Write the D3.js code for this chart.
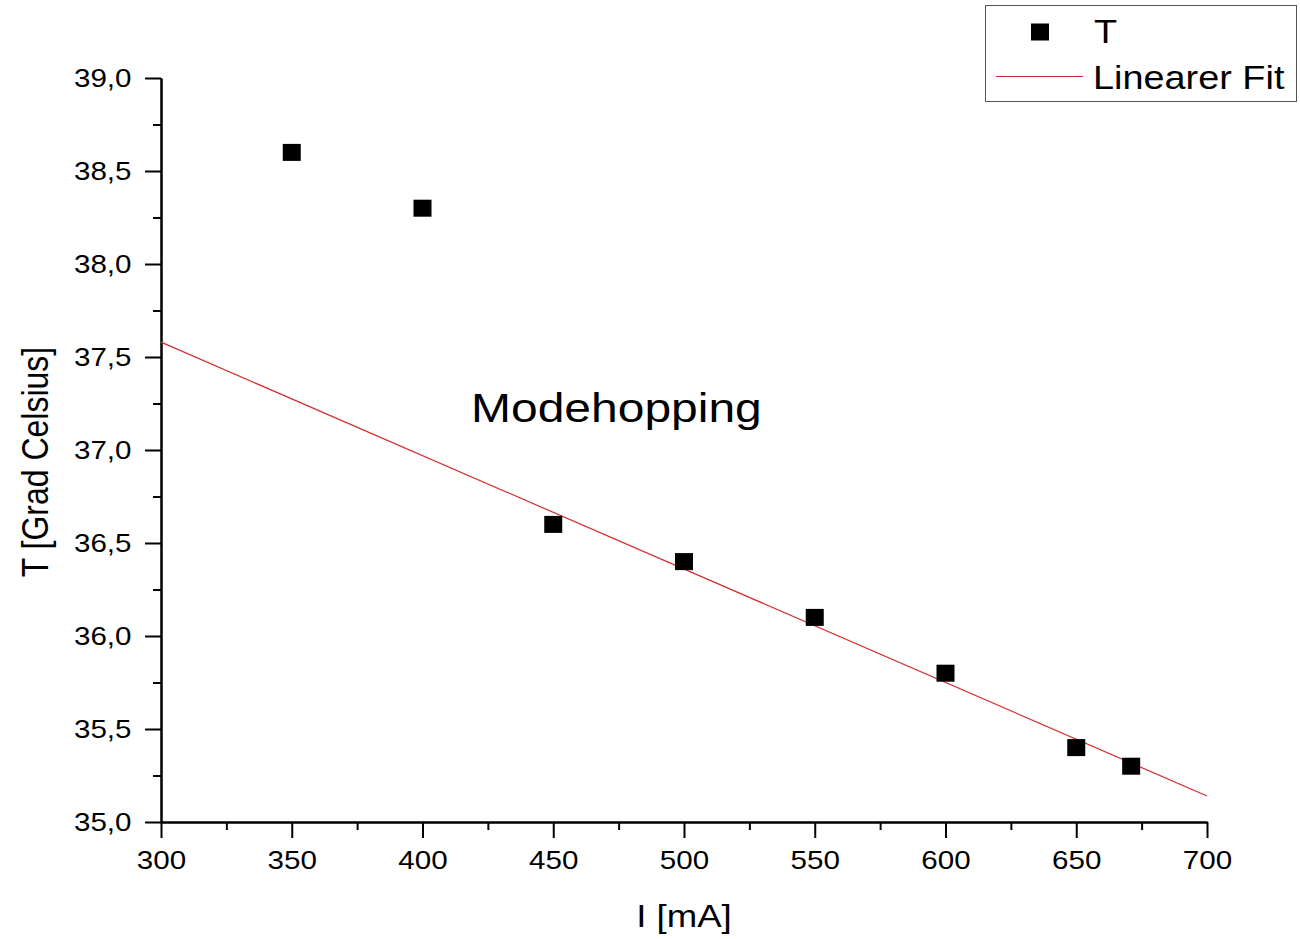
<!DOCTYPE html>
<html>
<head>
<meta charset="utf-8">
<script src="https://cdn.jsdelivr.net/npm/d3@7"></script>
<style>
  html, body { margin: 0; padding: 0; background: #fff; }
  svg { display: block; font-family: "Liberation Sans", Arial, sans-serif; }
</style>
</head>
<body>
<svg id="chart" width="1300" height="939"></svg>
<script>
// Measured temperature vs. diode current
const currents = [350, 400, 450, 500, 550, 600, 650, 671];
const temps = [38.6, 38.3, 36.6, 36.4, 36.1, 35.8, 35.4, 35.3];

// Linear fit endpoints across the axis range
const fitX = [300, 700];
const fitY = [37.58, 35.14];

const xTicks = [300, 350, 400, 450, 500, 550, 600, 650, 700];
const yTicks = [35.0, 35.5, 36.0, 36.5, 37.0, 37.5, 38.0, 38.5, 39.0];

(function () {
  const svg = d3.select("#chart");
  const plotLeft = 161, plotRight = 1207, plotTop = 78, plotBottom = 822;
  const wide = 1.16; // horizontal widening of the lettering

  const x = d3.scaleLinear().domain([300, 700]).range([plotLeft, plotRight]);
  const y = d3.scaleLinear().domain([35, 39]).range([plotBottom, plotTop]);

  const fmt = v => d3.format(".1f")(v).replace(".", ",");

  // Minor ticks between the majors
  const xMinor = d3.range(325, 700, 50);
  const yMinor = d3.range(35.25, 39, 0.5);

  const xAxis = svg.append("g").attr("transform", `translate(0,${plotBottom})`)
    .call(d3.axisBottom(x).tickValues(xTicks).tickSize(16).tickSizeOuter(0).tickFormat(d3.format("d")));
  const xMin = svg.append("g").attr("transform", `translate(0,${plotBottom})`)
    .call(d3.axisBottom(x).tickValues(xMinor).tickSize(8).tickSizeOuter(0).tickFormat(""));
  const yAxis = svg.append("g").attr("transform", `translate(${plotLeft},0)`)
    .call(d3.axisLeft(y).tickValues(yTicks).tickSize(16).tickSizeOuter(0).tickFormat(fmt));
  const yMin = svg.append("g").attr("transform", `translate(${plotLeft},0)`)
    .call(d3.axisLeft(y).tickValues(yMinor).tickSize(8).tickSizeOuter(0).tickFormat(""));

  [xAxis, xMin, yAxis, yMin].forEach(g => {
    g.select(".domain").attr("stroke", "#000").attr("stroke-width", 2);
    g.selectAll(".tick line").attr("stroke", "#000").attr("stroke-width", 2);
    g.selectAll(".tick text").attr("fill", "#000").style("font-size", "25.5px")
      .style("font-family", "'Liberation Sans', Arial, sans-serif");
  });
  xAxis.selectAll(".tick text").attr("y", 47).attr("dy", 0)
    .attr("transform", `scale(${wide},1)`);
  yAxis.selectAll(".tick text").attr("x", -29.5 / wide).attr("y", 8.5).attr("dy", 0)
    .attr("transform", `scale(${wide},1)`);

  // Axis titles
  svg.append("text").attr("transform", `translate(${(plotLeft + plotRight) / 2},927) scale(1.18,1)`)
    .attr("text-anchor", "middle").style("font-size", "31px").text("I [mA]");
  svg.append("text").attr("transform", "translate(48,462) rotate(-90) scale(1,1.16)")
    .attr("text-anchor", "middle").style("font-size", "32px").text("T [Grad Celsius]");

  // Fit line
  svg.append("line")
    .attr("x1", x(fitX[0])).attr("y1", y(fitY[0]))
    .attr("x2", x(fitX[1])).attr("y2", y(fitY[1]))
    .attr("stroke", "#d42a2a").attr("stroke-width", 1.2);

  // Data points
  const mw = 18, mh = 17;
  svg.append("g").selectAll("rect").data(currents.map((c, i) => [c, temps[i]])).join("rect")
    .attr("x", d => x(d[0]) - mw / 2).attr("y", d => y(d[1]) - mh / 2)
    .attr("width", mw).attr("height", mh).attr("fill", "#000");

  // Annotation
  svg.append("text").attr("transform", "translate(471,422) scale(1.185,1)")
    .style("font-size", "40.5px").text("Modehopping");

  // Legend
  const lg = svg.append("g");
  lg.append("rect").attr("x", 985.5).attr("y", 5.5).attr("width", 311).attr("height", 96)
    .attr("fill", "#fff").attr("stroke", "#555").attr("stroke-width", 1);
  lg.append("rect").attr("x", 1040 - 9).attr("y", 32 - 8.5).attr("width", 18).attr("height", 17).attr("fill", "#000");
  lg.append("line").attr("x1", 996).attr("x2", 1083).attr("y1", 76.5).attr("y2", 76.5)
    .attr("stroke", "#d42a2a").attr("stroke-width", 1.2);
  lg.append("text").attr("transform", "translate(1094,43) scale(1.13,1)")
    .style("font-size", "33.5px").text("T");
  lg.append("text").attr("transform", "translate(1093,89) scale(1.13,1)")
    .style("font-size", "33.5px").text("Linearer Fit");
})();
</script>
</body>
</html>
